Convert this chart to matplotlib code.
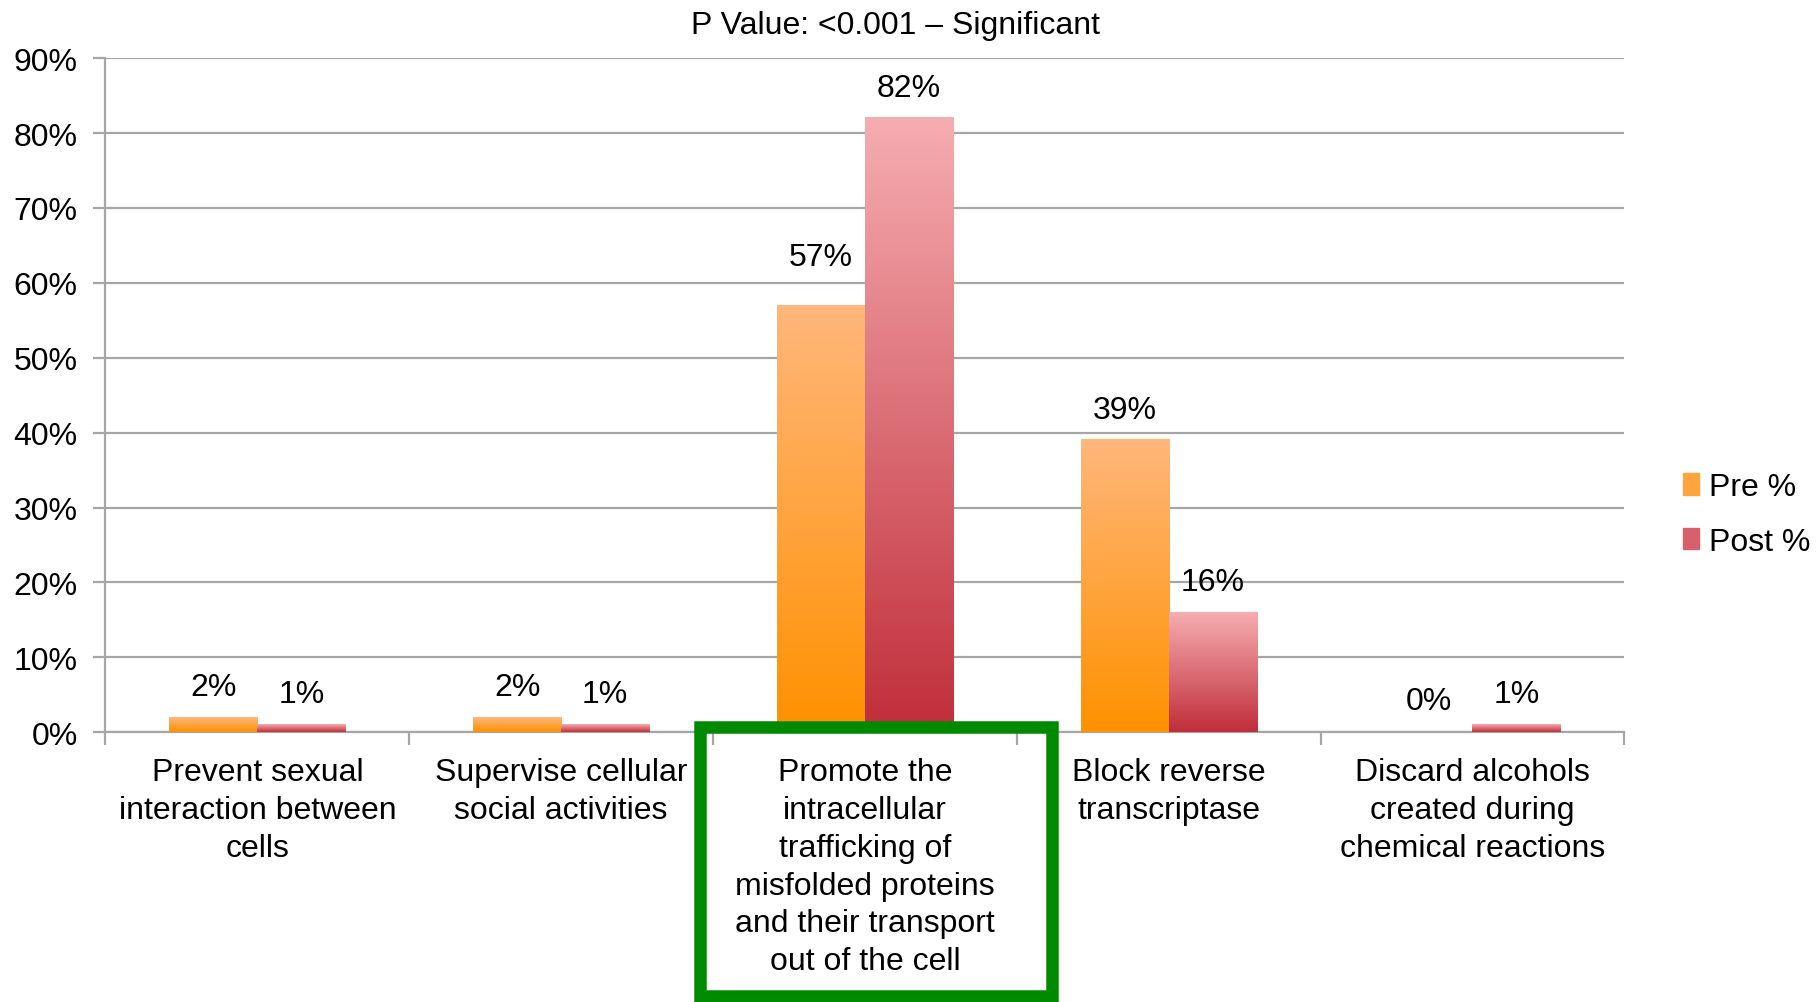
import numpy as np
import matplotlib.pyplot as plt
from matplotlib.colors import LinearSegmentedColormap
from matplotlib.patches import Rectangle
from matplotlib.ticker import FixedLocator, PercentFormatter

plt.rcParams['font.family'] = ['Liberation Sans', 'DejaVu Sans']

categories = [
    'Prevent sexual\ninteraction between\ncells',
    'Supervise cellular\nsocial activities',
    'Promote the\nintracellular\ntrafficking of\nmisfolded proteins\nand their transport\nout of the cell',
    'Block reverse\ntranscriptase',
    'Discard alcohols\ncreated during\nchemical reactions',
]
pre = [2, 2, 57, 39, 0]
post = [1, 1, 82, 16, 1]
series_names = ['Pre %', 'Post %']
title = 'P Value: <0.001 \u2013 Significant'

# light at the top of each bar, full colour at the base
pre_cmap = LinearSegmentedColormap.from_list('pre', ['#ff9100', '#ffb77c'])
post_cmap = LinearSegmentedColormap.from_list('post', ['#c02e3a', '#f6adb1'])

FS = 23

fig = plt.figure(figsize=(18.18, 10.03), dpi=100)
ax = fig.add_axes([0.058, 0.269, 0.8355, 0.672])

x = np.arange(len(categories))
width = 0.29
grad = np.linspace(0, 1, 256).reshape(-1, 1)


def gradient_bars(xs, vals, cmap, label, offsets):
    bars = ax.bar(xs, vals, width, color=cmap(0.5), label=label, zorder=2)
    for b, v, off in zip(bars, vals, offsets):
        b.set_alpha(0)
        x0 = b.get_x()
        if v > 0:
            ax.imshow(grad, cmap=cmap, origin='lower', aspect='auto',
                      extent=(x0, x0 + width, 0, v), zorder=3)
        ax.annotate(f'{v}%', (x0 + width / 2, v), xytext=(0, off),
                    textcoords='offset points', ha='center', va='bottom',
                    fontsize=FS)
    return bars


gradient_bars(x - width / 2, pre, pre_cmap, series_names[0], [11, 11, 24, 11, 12])
gradient_bars(x + width / 2, post, post_cmap, series_names[1], [11, 11, 11, 11, 11])

ax.set_xlim(-0.5, len(categories) - 0.5)
ax.set_ylim(0, 90)
ax.yaxis.set_major_locator(FixedLocator(np.arange(0, 91, 10)))
ax.yaxis.set_major_formatter(PercentFormatter(decimals=0))
ax.grid(axis='y', color='#a6a6a6', linewidth=1.6, zorder=0)
ax.set_axisbelow(True)

ax.set_xticks(np.arange(-0.5, len(categories), 1.0))
ax.set_xticklabels([])
ax.set_xticks(x, minor=True)
ax.set_xticklabels(categories, minor=True, fontsize=FS, linespacing=1.34)
ax.tick_params(axis='x', which='major', length=9, width=1.6, color='#a6a6a6')
ax.tick_params(axis='x', which='minor', length=0, pad=18)
ax.tick_params(axis='y', length=9, width=1.6, color='#a6a6a6', labelsize=FS, pad=11)

for s in ['top', 'right']:
    ax.spines[s].set_visible(False)
for s in ['left', 'bottom']:
    ax.spines[s].set_color('#a6a6a6')
    ax.spines[s].set_linewidth(1.6)

fig.text(0.4925, 0.974, title, ha='center', va='center', fontsize=FS)

handles = [Rectangle((0, 0), 1, 1, color=pre_cmap(0.5)),
           Rectangle((0, 0), 1, 1, color=post_cmap(0.4))]
fig.legend(handles, series_names, loc='center left', bbox_to_anchor=(0.91, 0.486),
           frameon=False, fontsize=FS, handlelength=0.5, handleheight=0.65,
           handletextpad=0.3, labelspacing=0.78)

# highlight box around the correct answer
fig.add_artist(Rectangle((700 / 1818, 1 - 997 / 1003), 352 / 1818, 269 / 1003,
                         transform=fig.transFigure, fill=False,
                         edgecolor='#008a00', linewidth=9, zorder=10))

fig.savefig('out.png', dpi=100)
